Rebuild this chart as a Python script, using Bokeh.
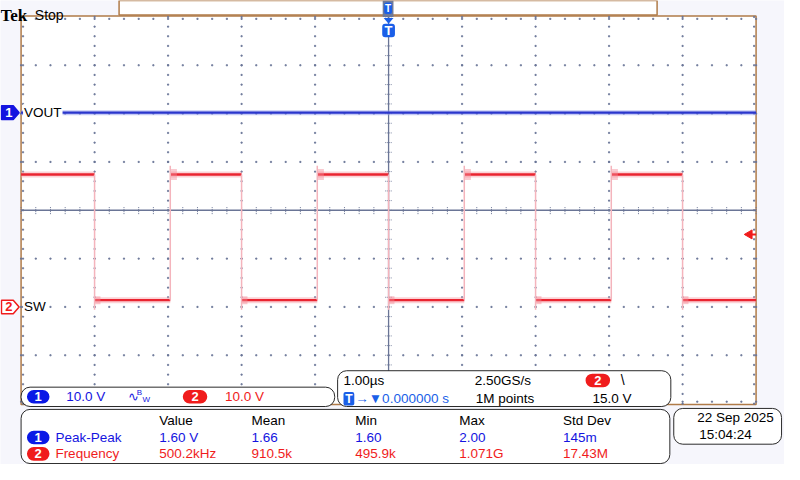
import numpy as np
from bokeh.plotting import figure
from bokeh.models import Range1d, BoxAnnotation, Label
from bokeh.embed import file_html
from bokeh.resources import INLINE

# ---------------- data ----------------
time_per_div_us = 1.0
ch1_volts_per_div = 10.0
ch2_volts_per_div = 10.0
ch1_position_div = 2.02
ch2_position_div = -2.0

sw_fall_times_us = [-4.00, -2.00, 0.00, 2.00, 4.00]
sw_rise_times_us = [-2.97, -0.97, 1.03, 3.03]
sw_high_v = 27.4
sw_low_v = 1.4
sw_rise_peak_v = 29.2
sw_fall_dip_v = -0.6
vout_v = 0.0
trigger_level_v = 15.0

ch_names = ["VOUT", "SW"]
ch_scale_labels = ["10.0 V", "10.0 V"]
timebase_label = "1.00µs"
sample_rate_label = "2.50GS/s"
record_label = "1M points"
trigger_pos_label = "→▼0.000000 s"
trigger_level_label = "15.0 V"

meas_headers = ["Value", "Mean", "Min", "Max", "Std Dev"]
meas_names = ["Peak-Peak", "Frequency"]
meas_ch1 = ["1.60 V", "1.66", "1.60", "2.00", "145m"]
meas_ch2 = ["500.2kHz", "910.5k", "495.9k", "1.071G", "17.43M"]
date_label = "22 Sep  2025"
time_label = "15:04:24"

# ---------------- layout (reference pixel space) ----------------
W, H = 800, 480
G_L, G_R, G_T, G_B = 21, 771, 17, 417
PX_PER_HDIV = (G_R - G_L) / 10.0
PX_PER_VDIV = (G_B - G_T) / 8.0
CX = (G_L + G_R) / 2.0
CY = (G_T + G_B) / 2.0

BLUE = "#1414e0"
RED = "#f01c1c"
BROWN = "#b07b48"
GRID = "#6a7596"
BG = "#f6f6fc"
FONT = "Liberation Sans"
FS = "13.5px"

t_start = (0 - CX) / PX_PER_HDIV * time_per_div_us
t_end = (W - CX) / PX_PER_HDIV * time_per_div_us
div_bottom = (CY - H) / PX_PER_VDIV
div_top = (CY - 0) / PX_PER_VDIV

p = figure(width=784, height=464, x_range=Range1d(0, W), y_range=Range1d(H, 0),
           output_backend="svg", toolbar_location=None,
           x_axis_type=None, y_axis_type=None, min_border=0,
           background_fill_color=BG, border_fill_color=BG, outline_line_color=None)
p.extra_x_ranges = {"t": Range1d(t_start, t_end)}
p.extra_y_ranges = {
    "div": Range1d(div_bottom, div_top),
    "ch1": Range1d((div_bottom - ch1_position_div) * ch1_volts_per_div,
                   (div_top - ch1_position_div) * ch1_volts_per_div),
    "ch2": Range1d((div_bottom - ch2_position_div) * ch2_volts_per_div,
                   (div_top - ch2_position_div) * ch2_volts_per_div),
}

# graticule background
p.add_layout(BoxAnnotation(left=G_L, right=G_R, top=G_T - 1, bottom=G_B + 1,
                           fill_color="white", fill_alpha=1, line_color=BROWN,
                           line_alpha=1, line_width=1.5, level="underlay"))

# dotted graticule
tmin, tmax = -5 * time_per_div_us, 5 * time_per_div_us
gx, gy = [], []
for xm in range(-4, 5):
    if xm == 0:
        continue
    for yv in np.arange(-4, 4.001, 0.2):
        gx.append(xm * time_per_div_us); gy.append(yv)
for ym in range(-3, 4):
    if ym == 0:
        continue
    for xv in np.arange(-5, 5.001, 0.2):
        gx.append(xv * time_per_div_us); gy.append(ym)
# edge ticks
dx_in = 2.0 / PX_PER_HDIV
dy_in = 2.0 / PX_PER_VDIV
for xv in np.arange(-5, 5.001, 0.2):
    gx += [xv, xv]; gy += [4 - dy_in, -4 + dy_in]
for yv in np.arange(-4, 4.001, 0.2):
    gx += [-5 + dx_in, 5 - dx_in]; gy += [yv, yv]
p.scatter(gx, gy, x_range_name="t", y_range_name="div", marker="square",
          size=1.2, color=GRID, alpha=0.85)

# center cross
p.segment([0, tmin], [-4, 0], [0, tmax], [4.3, 0], x_range_name="t", y_range_name="div",
          line_color=GRID, line_width=1.3)
tk = np.arange(-5, 5.001, 0.2)
p.segment(tk, -0.08, tk, 0.08, x_range_name="t", y_range_name="div",
          line_color=GRID, line_width=1, line_dash="1 1")
tv = np.arange(-4, 4.001, 0.2)
p.segment(-0.045, tv, 0.045, tv, x_range_name="t", y_range_name="div",
          line_color=GRID, line_width=1, line_dash="1 1")

# ---------------- CH2 (SW) square wave ----------------
events = sorted([(t, "f") for t in sw_fall_times_us] + [(t, "r") for t in sw_rise_times_us])
lv_x0, lv_x1, lv_y = [], [], []
cur_t = tmin
level = sw_high_v if events[0][1] == "f" else sw_low_v
for t, kind in events:
    lv_x0.append(cur_t); lv_x1.append(t); lv_y.append(level)
    cur_t = t
    level = sw_low_v if kind == "f" else sw_high_v
lv_x0.append(cur_t); lv_x1.append(tmax); lv_y.append(level)

p.segment(lv_x0, lv_y, lv_x1, lv_y, x_range_name="t", y_range_name="ch2",
          line_color="#f7a6ae", line_width=6, line_alpha=0.5)
p.segment(lv_x0, lv_y, lv_x1, lv_y, x_range_name="t", y_range_name="ch2",
          line_color="#ea2430", line_width=2.4)
# edges
p.segment(sw_fall_times_us, [sw_high_v] * len(sw_fall_times_us),
          sw_fall_times_us, [sw_fall_dip_v] * len(sw_fall_times_us),
          x_range_name="t", y_range_name="ch2", line_color="#f4b4bc", line_width=1.5)
p.segment(sw_rise_times_us, [sw_low_v] * len(sw_rise_times_us),
          sw_rise_times_us, [sw_rise_peak_v] * len(sw_rise_times_us),
          x_range_name="t", y_range_name="ch2", line_color="#f4b4bc", line_width=1.5)
# ringing right after the edges
rr = np.array(sw_rise_times_us)
p.segment(rr + 0.01, [sw_high_v] * len(rr), rr + 0.09, [sw_high_v] * len(rr),
          x_range_name="t", y_range_name="ch2", line_color="#f58a96", line_width=11, line_alpha=0.45)
ff = np.array(sw_fall_times_us)
p.segment(ff + 0.01, [sw_low_v] * len(ff), ff + 0.08, [sw_low_v] * len(ff),
          x_range_name="t", y_range_name="ch2", line_color="#f58a96", line_width=8, line_alpha=0.45)

# ---------------- CH1 (VOUT) ----------------
p.segment([tmin], [vout_v], [tmax], [vout_v], x_range_name="t", y_range_name="ch1",
          line_color="#98a0ec", line_width=5, line_alpha=0.55)
p.segment([tmin], [vout_v], [tmax], [vout_v], x_range_name="t", y_range_name="ch1",
          line_color="#2a36cc", line_width=2.2)

# trigger level arrow (right edge)
p.scatter([tmax - 0.09], [trigger_level_v], x_range_name="t", y_range_name="ch2",
          marker="triangle", angle=np.pi / 2, size=9, color=RED)
p.segment([tmax - 0.07], [trigger_level_v], [tmax], [trigger_level_v],
          x_range_name="t", y_range_name="ch2", line_color=RED, line_width=2)

# channel reference markers at left
for pos, col, num, name, filled in [(ch1_position_div, BLUE, "1", ch_names[0], True),
                                     (ch2_position_div, RED, "2", ch_names[1], False)]:
    h = 7.0 / PX_PER_VDIV
    p.patch([1, 13, 19, 13, 1], [pos + h, pos + h, pos, pos - h, pos - h],
            y_range_name="div", fill_color=col if filled else "white",
            line_color=col, line_width=1.5)
    p.add_layout(Label(x=8.5, y=pos, y_range_name="div", text=num, text_align="center",
                       text_baseline="middle", text_font=FONT, text_font_size="13px",
                       text_font_style="bold", text_color="white" if filled else col))
    p.add_layout(Label(x=23, y=pos, y_range_name="div", text=name, text_align="left",
                       text_baseline="middle", text_font=FONT, text_font_size=FS,
                       text_color="black", background_fill_color="white",
                       background_fill_alpha=1, padding=1))

# ---------------- header ----------------
p.add_layout(Label(x=0, y=15, text="Tek", text_font="Liberation Serif", text_font_size="17px",
                   text_font_style="bold", text_color="black", text_baseline="alphabetic"))
p.add_layout(Label(x=35, y=15, text="Stop", text_font=FONT, text_font_size="14px",
                   text_color="black", text_baseline="alphabetic"))
p.add_layout(BoxAnnotation(left=121, right=670, top=0, bottom=15, fill_color="white",
                           fill_alpha=1, line_color=BROWN, line_alpha=1, line_width=1.5))
p.segment([232], [7], [561], [7], line_color="#1020c0", line_width=1.6)
p.add_layout(BoxAnnotation(left=390, right=401, top=0, bottom=17, fill_color="#6f7a98",
                           fill_alpha=1, line_color=None))
p.add_layout(BoxAnnotation(left=391.5, right=399.5, top=2, bottom=14, fill_color="#1a5fe8",
                           fill_alpha=1, line_color=None, border_radius=2))
p.add_layout(Label(x=395.5, y=8, text="T", text_align="center", text_baseline="middle",
                   text_font=FONT, text_font_size="10px", text_font_style="bold",
                   text_color="white"))
p.patch([391, 401, 396], [18, 18, 24], fill_color="#1a5fe8", line_color=None)
p.add_layout(BoxAnnotation(left=389.5, right=402.5, top=24, bottom=38, fill_color="#1a5fe8",
                           fill_alpha=1, line_color=None, border_radius=3))
p.add_layout(Label(x=396, y=31, text="T", text_align="center", text_baseline="middle",
                   text_font=FONT, text_font_size="13px", text_font_style="bold",
                   text_color="white"))


def badge(x0, x1, yc, num, col):
    p.add_layout(BoxAnnotation(left=x0, right=x1, top=yc - 7, bottom=yc + 7,
                               fill_color=col, fill_alpha=1, line_color=None, border_radius=7))
    p.add_layout(Label(x=(x0 + x1) / 2, y=yc, text=num, text_align="center",
                       text_baseline="middle", text_font=FONT, text_font_size="13px",
                       text_font_style="bold", text_color="white"))


def txt(x, y, s, col="black", size=FS):
    p.add_layout(Label(x=x, y=y, text=s, text_align="left", text_baseline="middle",
                       text_font=FONT, text_font_size=size, text_color=col))


def panel(l, r, t, b):
    p.add_layout(BoxAnnotation(left=l, right=r, top=t, bottom=b, fill_color="white",
                               fill_alpha=1, line_color="#2a2a2a", line_alpha=1,
                               line_width=1, border_radius=9))


# channel panel
panel(21, 341, 400, 420)
badge(27, 50, 410, "1", "#0a18e6")
txt(67, 410, ch_scale_labels[0], BLUE)
txt(130, 410, "∿", BLUE, "13px")
txt(139, 406, "B", BLUE, "8px")
txt(145, 413, "W", BLUE, "8px")
badge(186, 211, 410, "2", RED)
txt(229, 410, ch_scale_labels[1], RED)

# timebase panel
panel(344, 684, 383, 420)
txt(350, 393, timebase_label)
txt(484, 393, sample_rate_label)
badge(597, 622, 393, "2", RED)
txt(633, 393, "\\", "black", "14px")
p.add_layout(BoxAnnotation(left=350, right=361, top=405, bottom=419, fill_color="#1a5fe8",
                           fill_alpha=1, line_color=None, border_radius=2))
p.add_layout(Label(x=355.5, y=412, text="T", text_align="center", text_baseline="middle",
                   text_font=FONT, text_font_size="12px", text_font_style="bold",
                   text_color="white"))
txt(362, 412, trigger_pos_label, "#1a5fe8")
txt(485, 412, record_label)
txt(604, 412, trigger_level_label)

# measurement panel
panel(21, 683, 423, 479)
col_x = [162, 256, 362, 468, 574]
for x, hdr in zip(col_x, meas_headers):
    txt(x, 434, hdr)
badge(27, 50, 452, "1", "#0a18e6")
txt(56, 452, meas_names[0], BLUE)
for x, v in zip(col_x, meas_ch1):
    txt(x, 452, v, BLUE)
badge(27, 50, 469, "2", RED)
txt(56, 469, meas_names[1], RED)
for x, v in zip(col_x, meas_ch2):
    txt(x, 469, v, RED)

# date panel
panel(687, 797, 422, 459)
txt(711, 431, date_label)
txt(713, 449, time_label)

open("out.html", "w").write(file_html(p, INLINE))
